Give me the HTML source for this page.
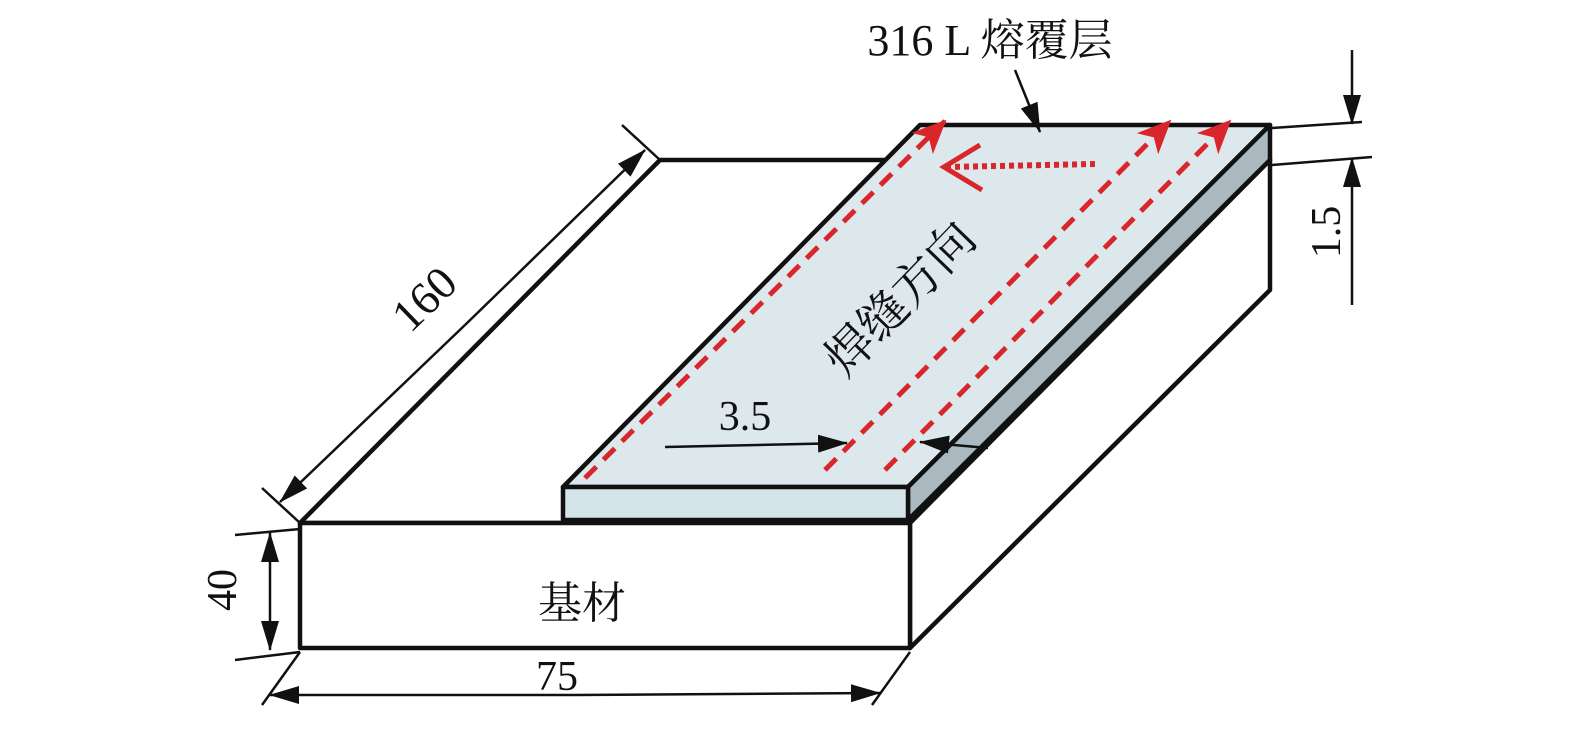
<!DOCTYPE html>
<html><head><meta charset="utf-8"><style>
body{margin:0;background:#fff}
svg{display:block}
text{font-family:"Liberation Serif","Noto Serif CJK SC",serif;fill:#111}
</style></head><body>
<svg width="1575" height="730" viewBox="0 0 1575 730">
<defs>
<marker id="ab" markerWidth="30" markerHeight="18" refX="29" refY="9" orient="auto" markerUnits="userSpaceOnUse" viewBox="0 0 30 18"><path d="M0,0 L30,9 L0,18 Z" fill="#111"/></marker>
<marker id="r" markerWidth="34" markerHeight="30" refX="32" refY="15" orient="auto" markerUnits="userSpaceOnUse" viewBox="0 0 34 30"><path d="M0,0 L34,15 L0,30 L9,15 Z" fill="#d8262b"/></marker>
</defs>
<g stroke="#111" stroke-width="4.5" stroke-linejoin="round">
<polygon points="300,523 660,160 1270,160 910,523" fill="#fff"/>
<polygon points="910,523 1270,160 1270,290 910,648" fill="#fff"/>
<rect x="300" y="523" width="610" height="125" fill="#fff"/>
<polygon points="563,487 920,125 1270,125 908,487" fill="#dce8ec"/>
<polygon points="908,487 1270,125 1270,160 908,520" fill="#a9b9bf"/>
<rect x="563" y="487" width="345" height="33" fill="#d5e4e9"/>
</g>
<g stroke="#d8262b" stroke-width="5" stroke-dasharray="16,10" fill="none">
<line x1="585" y1="478" x2="945" y2="121" marker-end="url(#r)"/>
<line x1="825" y1="470" x2="1170" y2="121" marker-end="url(#r)"/>
<line x1="885" y1="470" x2="1230" y2="121" marker-end="url(#r)"/>
</g>
<line x1="1095" y1="164" x2="948" y2="167" stroke="#d8262b" stroke-width="6" stroke-dasharray="5,4"/>
<polyline points="980,145 944,167 982,190" fill="none" stroke="#d8262b" stroke-width="5"/>
<g stroke="#111" stroke-width="2.5" fill="none">
<line x1="622" y1="125" x2="660" y2="160"/>
<line x1="262" y1="488" x2="300" y2="523"/>
<line x1="465" y1="325" x2="645" y2="150" marker-end="url(#ab)"/>
<line x1="465" y1="325" x2="280" y2="502" marker-end="url(#ab)"/>
<line x1="235" y1="535" x2="300" y2="529"/>
<line x1="235" y1="660" x2="300" y2="652"/>
<line x1="270" y1="590" x2="270" y2="533" marker-end="url(#ab)"/>
<line x1="270" y1="590" x2="270" y2="650" marker-end="url(#ab)"/>
<line x1="300" y1="652" x2="262" y2="705"/>
<line x1="910" y1="652" x2="872" y2="705"/>
<line x1="575" y1="695" x2="270" y2="695" marker-end="url(#ab)"/>
<line x1="575" y1="695" x2="880" y2="693" marker-end="url(#ab)"/>
<line x1="1272" y1="128" x2="1362" y2="122"/>
<line x1="1272" y1="165" x2="1372" y2="157"/>
<line x1="1352" y1="50" x2="1352" y2="124" marker-end="url(#ab)"/>
<line x1="1352" y1="305" x2="1352" y2="158" marker-end="url(#ab)"/>
<line x1="1015" y1="70" x2="1040" y2="132" marker-end="url(#ab)"/>
<line x1="665" y1="447" x2="847" y2="443" marker-end="url(#ab)"/>
<line x1="988" y1="448" x2="920" y2="442" marker-end="url(#ab)"/>
</g>
<text x="990" y="55" font-size="44" text-anchor="middle">316 L 熔覆层</text>
<text x="745" y="430" font-size="42" text-anchor="middle">3.5</text>
<text x="582" y="618" font-size="44" text-anchor="middle">基材</text>
<text x="557" y="690" font-size="42" text-anchor="middle">75</text>
<text transform="translate(236,590) rotate(-90)" font-size="42" text-anchor="middle">40</text>
<text transform="translate(1340,232) rotate(-90)" font-size="42" text-anchor="middle">1.5</text>
<text transform="translate(435,310) rotate(-44)" font-size="46" text-anchor="middle">160</text>
<text transform="translate(912,310) rotate(-46)" font-size="48" text-anchor="middle">焊缝方向</text>
</svg>
</body></html>
